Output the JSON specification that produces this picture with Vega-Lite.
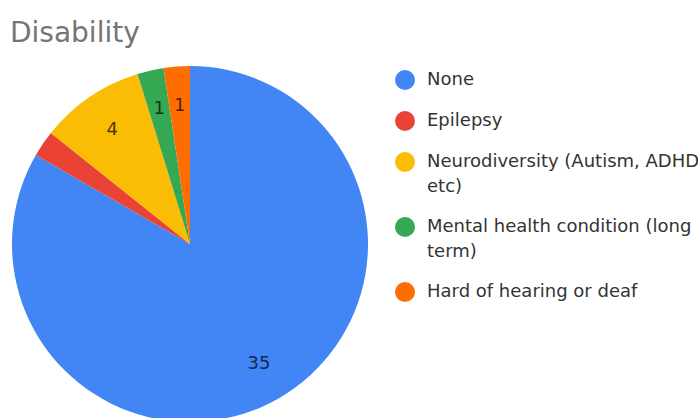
{
  "$schema": "https://vega.github.io/schema/vega-lite/v6.json",
  "width": 380,
  "height": 380,
  "autosize": "none",
  "padding": {"left": 0, "top": 54, "right": 318, "bottom": 0},
  "background": "white",
  "title": {
    "text": "Disability",
    "anchor": "start",
    "frame": "group",
    "font": "DejaVu Sans",
    "fontSize": 28,
    "fontWeight": "normal",
    "color": "#757575",
    "dx": 10,
    "dy": 27,
    "baseline": "alphabetic",
    "offset": 11
  },
  "data": {
    "values": [
      {"Disability": "None", "Count": 35},
      {"Disability": "Epilepsy", "Count": 1},
      {"Disability": "Neurodiversity (Autism, ADHD etc)", "Count": 4},
      {"Disability": "Mental health condition (long term)", "Count": 1},
      {"Disability": "Hard of hearing or deaf", "Count": 1}
    ]
  },
  "encoding": {
    "theta": {"field": "Count", "type": "quantitative", "stack": true},
    "order": {"field": "order", "type": "quantitative"}
  },
  "transform": [
    {"window": [{"op": "row_number", "as": "order"}]}
  ],
  "layer": [
    {
      "mark": {"type": "arc", "outerRadius": 178, "strokeWidth": 0},
      "encoding": {
        "color": {
          "field": "Disability",
          "type": "nominal",
          "sort": ["None", "Epilepsy", "Neurodiversity (Autism, ADHD etc)", "Mental health condition (long term)", "Hard of hearing or deaf"],
          "scale": {
            "domain": ["None", "Epilepsy", "Neurodiversity (Autism, ADHD etc)", "Mental health condition (long term)", "Hard of hearing or deaf"],
            "range": ["#4285F4", "#EA4335", "#FBBC04", "#34A853", "#FF6D01"]
          },
          "legend": {
            "title": null,
            "orient": "none",
            "legendX": 395,
            "legendY": 16,
            "symbolType": "circle",
            "symbolSize": 400,
            "symbolStrokeWidth": 0,
            "labelFont": "DejaVu Sans",
            "labelFontSize": 18,
            "labelColor": "#333333",
            "labelOffset": 12,
            "labelLimit": 500,
            "rowPadding": 21,
            "labelBaseline": "middle",
            "labelExpr": "datum.label == 'Neurodiversity (Autism, ADHD etc)' ? ['Neurodiversity (Autism, ADHD', 'etc)'] : datum.label == 'Mental health condition (long term)' ? ['Mental health condition (long', 'term)'] : datum.label",
            "encode": {
              "labels": {"update": {"lineHeight": {"value": 25}}}
            }
          }
        }
      }
    },
    {
      "mark": {"type": "text", "radius": 138, "font": "DejaVu Sans", "fontSize": 18, "fill": "black", "opacity": 0.7},
      "encoding": {
        "text": {
          "condition": {"test": "datum.Disability == 'Epilepsy'", "value": ""},
          "field": "Count",
          "type": "quantitative"
        }
      }
    }
  ]
}
